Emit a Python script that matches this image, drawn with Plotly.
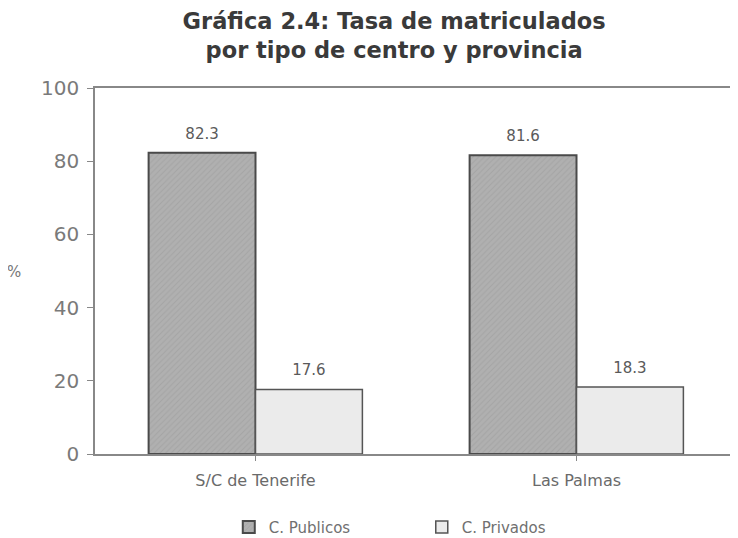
import plotly.graph_objects as go

provincias = ["S/C de Tenerife", "Las Palmas"]
publicos = [82.3, 81.6]
privados = [17.6, 18.3]

FONT = "DejaVu Sans"
# the page adds an 8px body margin, so the figure is 8px smaller than the window
W, H = 730, 530
# small second line lifts the value label a bit further off the bar top
LABEL = "<span style='font-size:15px'>%{y:.1f}</span><br>&nbsp;"

fig = go.Figure()
fig.add_trace(go.Bar(
    x=provincias,
    y=publicos,
    name="C. Publicos",
    texttemplate=LABEL,
    textposition="outside",
    marker=dict(
        color="#aaaaaa",
        line=dict(color="#4a4a4a", width=2),
        pattern=dict(shape="/", fgcolor="#999999", bgcolor="#b0b0b0", size=4, solidity=0.25),
    ),
))
fig.add_trace(go.Bar(
    x=provincias,
    y=privados,
    name="C. Privados",
    texttemplate=LABEL,
    textposition="outside",
    marker=dict(color="#ebebeb", line=dict(color="#555555", width=1.5)),
))

fig.update_layout(
    width=W,
    height=H,
    barmode="group",
    bargap=0.334,
    bargroupgap=0,
    plot_bgcolor="white",
    paper_bgcolor="white",
    font=dict(family=FONT, size=15, color="#707070"),
    margin=dict(l=87, r=1, t=80, b=84, autoexpand=False),
    title=dict(
        text="<b>Gráfica 2.4: Tasa de matriculados<br>por tipo de centro y provincia</b>",
        x=0.466,
        xref="paper",
        xanchor="center",
        y=0.961,
        yanchor="top",
        font=dict(family=FONT, size=22.5, color="#3a3a3a"),
    ),
    legend=dict(
        orientation="h",
        x=0.509,
        xanchor="center",
        y=-0.2,
        yanchor="middle",
        font=dict(size=15, color="#707070"),
        itemwidth=30,
        entrywidth=148,
    ),
)
fig.update_traces(textfont=dict(size=7, color="#5a5a5a"), cliponaxis=False)

fig.update_yaxes(
    range=[0, 100],
    tickvals=[0, 20, 40, 60, 80, 100],
    showgrid=False,
    showline=True,
    linecolor="#888888",
    linewidth=1.5,
    mirror=True,
    ticks="outside",
    ticklen=6,
    tickcolor="#888888",
    zeroline=False,
    automargin=False,
    ticklabelstandoff=4,
    tickfont=dict(size=20, color="#7a7a7a"),
)
fig.update_xaxes(
    range=[-0.5, 1.5],
    showline=True,
    linecolor="#888888",
    linewidth=1.5,
    mirror=True,
    ticks="outside",
    ticklen=5,
    tickcolor="#888888",
    automargin=False,
    ticklabelstandoff=6,
    tickfont=dict(size=16, color="#6a6a6a"),
)

fig.add_annotation(
    text="%",
    xref="paper",
    yref="paper",
    x=-0.126,
    y=0.497,
    xanchor="center",
    showarrow=False,
    font=dict(size=15, color="#777777"),
)

fig.write_html("out.html")
